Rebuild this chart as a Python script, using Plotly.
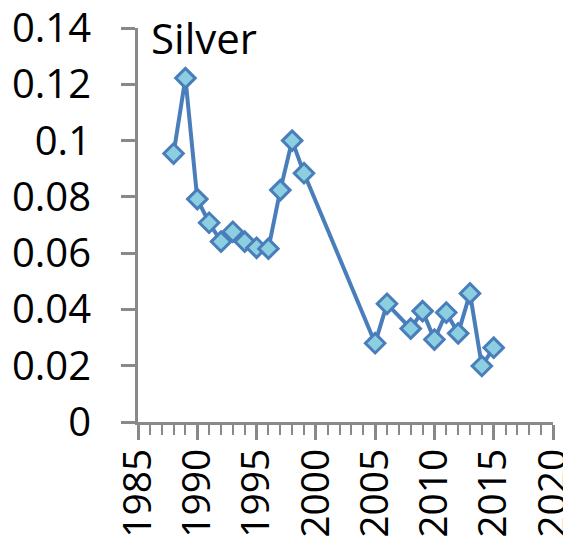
import plotly.graph_objects as go

years = [1988, 1989, 1990, 1991, 1992, 1993, 1994, 1995, 1996, 1997, 1998, 1999,
         2005, 2006, 2008, 2009, 2010, 2011, 2012, 2013, 2014, 2015]
silver = [0.0954, 0.1222, 0.0792, 0.0708, 0.0641, 0.0676, 0.0641, 0.0619, 0.0616,
          0.0824, 0.1000, 0.0884, 0.0280, 0.0420, 0.0332, 0.0394, 0.0293, 0.0389,
          0.0315, 0.0457, 0.0199, 0.0264]
y_ticks = [0, 0.02, 0.04, 0.06, 0.08, 0.1, 0.12, 0.14]
y_ticktext = ["0", "0.02", "0.04", "0.06", "0.08", "0.1", "0.12", "0.14"]
x_ticks = [1985, 1990, 1995, 2000, 2005, 2010, 2015, 2020]
panel_title = "Silver"

FONT = "Open Sans, Liberation Sans, sans-serif"
AXIS = "#898989"

fig = go.Figure()
fig.add_trace(go.Scatter(
    x=years, y=silver, mode="lines+markers",
    line=dict(color="#4A7EBB", width=4),
    marker=dict(symbol="diamond", size=15, color="#8CCFE0",
                line=dict(color="#4A7EBB", width=3)),
    showlegend=False, cliponaxis=False,
))

ann = [dict(text=panel_title, x=1985.9, y=0.1368, xref="x", yref="y",
            xanchor="left", yanchor="middle", showarrow=False,
            font=dict(family=FONT, size=42, color="black"))]

fig.update_layout(
    width=563, height=542,
    margin=dict(l=130, r=18.3, t=19.6, b=128.3, pad=0, autoexpand=False),
    paper_bgcolor="white", plot_bgcolor="white",
    font=dict(family=FONT, size=40, color="black"),
    annotations=ann,
    xaxis=dict(range=[1985, 2020], tickmode="array", tickvals=x_ticks,
               tickangle=-90, showgrid=False, zeroline=False, automargin=False,
               showline=True, linecolor=AXIS, linewidth=3,
               ticks="outside", ticklen=15, tickwidth=2.5, tickcolor=AXIS,
               ticklabelstandoff=-7, ticklabeloverflow="allow",
               tickfont=dict(size=39),
               minor=dict(dtick=1, ticks="outside", ticklen=10, tickwidth=2,
                          tickcolor=AXIS, showgrid=False)),
    yaxis=dict(range=[0, 0.14], tickmode="array", tickvals=y_ticks,
               ticktext=y_ticktext, showgrid=False, zeroline=False, automargin=False,
               showline=True, linecolor=AXIS, linewidth=3,
               ticks="outside", ticklen=14, tickwidth=2.5, tickcolor=AXIS,
               ticklabelstandoff=22, ticklabeloverflow="allow"),
)

fig.write_html("out.html")
